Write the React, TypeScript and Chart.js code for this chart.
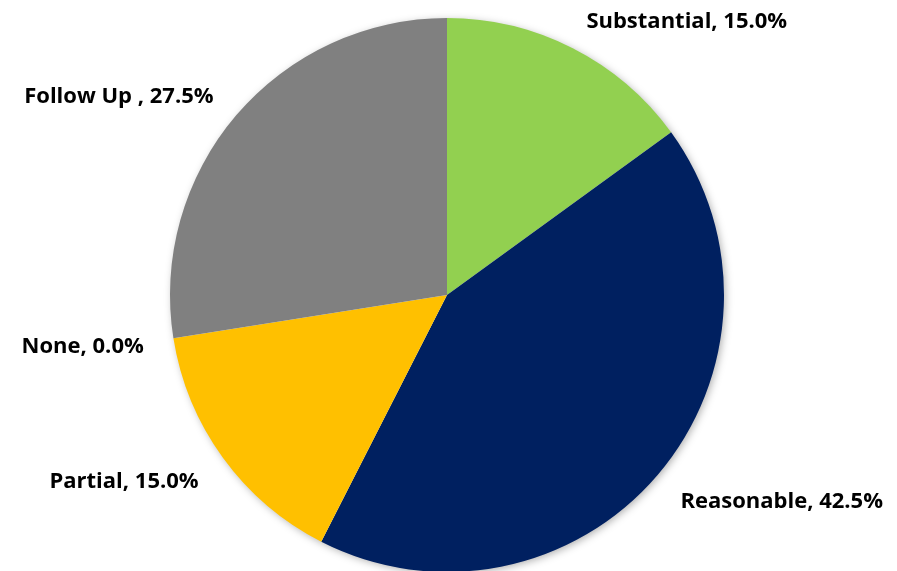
import React, { useEffect, useRef } from "react";
import { Chart, registerables } from "chart.js";

Chart.register(...registerables);

const categories = ["Substantial", "Reasonable", "Partial", "None", "Follow Up "];
const values = [15.0, 42.5, 15.0, 0.0, 27.5];
const colors = ["#92D050", "#002060", "#FFC000", "#A5A5A5", "#808080"];

const labelFont = "bold 22px 'Open Sans', Lato, sans-serif";

const shadowPlugin = {
  id: "pieShadow",
  beforeDatasetsDraw(chart: any) {
    const meta = chart.getDatasetMeta(0);
    const arc = meta.data[0];
    if (!arc) return;
    const { x, y, outerRadius } = arc.getProps(["x", "y", "outerRadius"], true);
    const ctx = chart.ctx;
    ctx.save();
    ctx.shadowColor = "rgba(0,0,0,0.35)";
    ctx.shadowBlur = 8;
    ctx.shadowOffsetX = 2;
    ctx.shadowOffsetY = 2;
    ctx.fillStyle = "#ffffff";
    ctx.beginPath();
    ctx.arc(x, y, outerRadius - 1, 0, Math.PI * 2);
    ctx.fill();
    ctx.restore();
  },
};

const labelPlugin = {
  id: "outsideLabels",
  afterDatasetsDraw(chart: any) {
    const meta = chart.getDatasetMeta(0);
    const ctx = chart.ctx;
    ctx.save();
    ctx.font = labelFont;
    ctx.fillStyle = "#000000";
    ctx.textBaseline = "middle";
    meta.data.forEach((arc: any, i: number) => {
      const { x, y, startAngle, endAngle, outerRadius } = arc.getProps(
        ["x", "y", "startAngle", "endAngle", "outerRadius"],
        true
      );
      const mid = (startAngle + endAngle) / 2;
      const cx = Math.cos(mid);
      const cy = Math.sin(mid);
      const ex = x + outerRadius * cx;
      const ey = y + outerRadius * cy;
      const lx = ex + 30 * cx;
      const ly = ey + (cy > 0 ? 38 : 32) * cy + 2;
      ctx.textAlign = cx >= 0 ? "left" : "right";
      const text = `${categories[i]}, ${values[i].toFixed(1)}%`;
      ctx.fillText(text, lx, ly);
    });
    ctx.restore();
  },
};

export default function App() {
  const ref = useRef<HTMLCanvasElement | null>(null);

  useEffect(() => {
    document.body.style.margin = "0";
    document.documentElement.style.overflow = "hidden";
    document.body.style.overflow = "hidden";
    if (!ref.current) return;
    const chart = new Chart(ref.current, {
      type: "pie",
      data: {
        labels: categories,
        datasets: [
          {
            data: values,
            backgroundColor: colors,
            borderWidth: 0,
          },
        ],
      },
      options: {
        responsive: false,
        animation: false,
        layout: { padding: { left: 170, right: 173, top: 18, bottom: 28 } },
        plugins: {
          legend: { display: false },
          tooltip: { enabled: false },
        },
      },
      plugins: [shadowPlugin, labelPlugin],
    });
    return () => chart.destroy();
  }, []);

  return (
    <div style={{ width: 897, height: 571, overflow: "hidden", background: "#fff" }}>
      <canvas ref={ref} width={897} height={600} style={{ display: "block" }} />
    </div>
  );
}
